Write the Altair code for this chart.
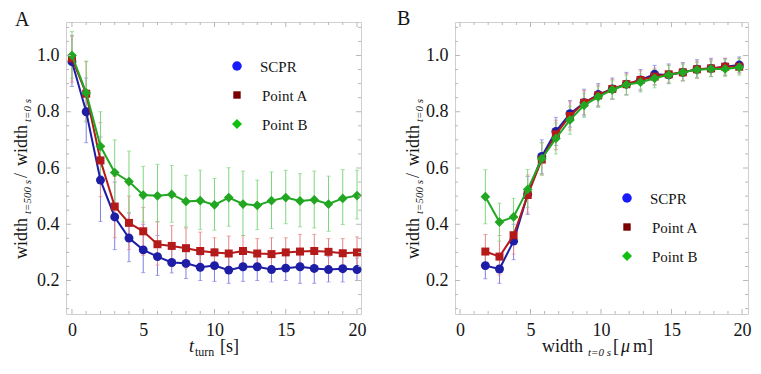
import altair as alt
import pandas as pd

FONT = "Liberation Serif, Times New Roman, serif"

# ---------------- Panel A data ----------------
t_turn = [0, 1, 2, 3, 4, 5, 6, 7, 8, 9, 10, 11, 12, 13, 14, 15, 16, 17, 18, 19, 20]

scpr_A = [0.978, 0.800, 0.557, 0.426, 0.351, 0.309, 0.285, 0.264, 0.261, 0.247, 0.253,
          0.237, 0.249, 0.249, 0.239, 0.244, 0.249, 0.243, 0.239, 0.242, 0.239]
scpr_A_hi = [1.070, 0.920, 0.710, 0.550, 0.440, 0.400, 0.360, 0.310, 0.310, 0.290, 0.313,
             0.290, 0.300, 0.300, 0.285, 0.290, 0.300, 0.295, 0.285, 0.290, 0.280]
scpr_A_lo = [0.890, 0.690, 0.410, 0.310, 0.267, 0.228, 0.218, 0.227, 0.207, 0.200, 0.197,
             0.190, 0.197, 0.200, 0.195, 0.200, 0.190, 0.190, 0.195, 0.195, 0.200]

pointA_A = [0.990, 0.864, 0.627, 0.463, 0.405, 0.375, 0.329, 0.323, 0.315, 0.305, 0.300,
            0.296, 0.305, 0.296, 0.294, 0.300, 0.303, 0.305, 0.302, 0.297, 0.300]
pointA_A_hi = [1.070, 0.978, 0.761, 0.570, 0.500, 0.460, 0.410, 0.395, 0.387, 0.372, 0.352,
               0.358, 0.360, 0.349, 0.352, 0.352, 0.364, 0.364, 0.349, 0.349, 0.355]
pointA_A_lo = [0.905, 0.764, 0.498, 0.352, 0.310, 0.290, 0.255, 0.250, 0.245, 0.240, 0.245,
               0.235, 0.250, 0.245, 0.240, 0.245, 0.245, 0.245, 0.250, 0.245, 0.245]

pointB_A = [1.000, 0.867, 0.677, 0.584, 0.552, 0.504, 0.501, 0.506, 0.481, 0.484, 0.469,
            0.495, 0.472, 0.467, 0.484, 0.495, 0.483, 0.487, 0.472, 0.492, 0.502]
pointB_A_hi = [1.085, 0.980, 0.800, 0.700, 0.660, 0.606, 0.613, 0.609, 0.574, 0.592, 0.563,
               0.601, 0.589, 0.557, 0.586, 0.592, 0.580, 0.589, 0.571, 0.594, 0.592]
pointB_A_lo = [0.919, 0.767, 0.568, 0.460, 0.440, 0.408, 0.408, 0.407, 0.391, 0.381, 0.379,
               0.393, 0.360, 0.381, 0.385, 0.402, 0.391, 0.387, 0.375, 0.399, 0.419]

# ---------------- Panel B data ----------------
width0 = [1.8, 2.8, 3.8, 4.8, 5.8, 6.8, 7.8, 8.8, 9.8, 10.8, 11.8, 12.8, 13.8, 14.8,
          15.8, 16.8, 17.8, 18.8, 19.8]

scpr_B = [0.253, 0.241, 0.340, 0.506, 0.641, 0.730, 0.793, 0.832, 0.861, 0.881, 0.898,
          0.913, 0.933, 0.931, 0.940, 0.951, 0.954, 0.960, 0.966]
scpr_B_hi = [0.300, 0.290, 0.400, 0.570, 0.700, 0.780, 0.840, 0.880, 0.900, 0.920, 0.940,
             0.950, 0.965, 0.970, 0.975, 0.985, 0.990, 0.990, 0.995]
scpr_B_lo = [0.206, 0.190, 0.274, 0.435, 0.580, 0.680, 0.745, 0.785, 0.820, 0.845, 0.860,
             0.875, 0.895, 0.900, 0.910, 0.920, 0.925, 0.930, 0.940]

pointA_B = [0.303, 0.285, 0.361, 0.504, 0.630, 0.720, 0.785, 0.832, 0.858, 0.881, 0.898,
            0.913, 0.925, 0.933, 0.940, 0.951, 0.954, 0.960, 0.960]
pointA_B_hi = [0.364, 0.360, 0.420, 0.575, 0.690, 0.770, 0.835, 0.875, 0.895, 0.915, 0.935,
               0.945, 0.955, 0.965, 0.970, 0.980, 0.985, 0.990, 0.990]
pointA_B_lo = [0.240, 0.220, 0.294, 0.440, 0.575, 0.665, 0.735, 0.790, 0.820, 0.845, 0.860,
               0.880, 0.895, 0.905, 0.910, 0.920, 0.925, 0.930, 0.935]

pointB_B = [0.498, 0.408, 0.426, 0.524, 0.633, 0.705, 0.771, 0.823, 0.853, 0.878, 0.896,
            0.905, 0.919, 0.931, 0.940, 0.949, 0.952, 0.952, 0.958]
pointB_B_hi = [0.594, 0.475, 0.492, 0.595, 0.690, 0.760, 0.820, 0.865, 0.890, 0.910, 0.930,
               0.935, 0.950, 0.965, 0.970, 0.975, 0.980, 0.985, 0.990]
pointB_B_lo = [0.402, 0.340, 0.360, 0.460, 0.575, 0.650, 0.720, 0.780, 0.815, 0.845, 0.860,
               0.870, 0.885, 0.900, 0.910, 0.920, 0.925, 0.925, 0.930]

# ---------------- labels / ticks ----------------
series_names = ["SCPR", "Point A", "Point B"]
x_tick_values = [0, 5, 10, 15, 20]
x_minor_values = [1, 2, 3, 4, 6, 7, 8, 9, 11, 12, 13, 14, 16, 17, 18, 19]
y_tick_values = [0.2, 0.4, 0.6, 0.8, 1.0]
y_minor_values = [0.1, 0.15, 0.25, 0.3, 0.35, 0.45, 0.5, 0.55, 0.65, 0.7, 0.75,
                  0.85, 0.9, 0.95, 1.05, 1.1]

# styles
line_colors = ["#1d1da6", "#b41a1a", "#22a722"]
err_colors = ["#7f7fe6", "#e48484", "#7fd67f"]
legend_colors = ["#1a1aff", "#7a0000", "#10c010"]
shapes = ["circle", "square", "diamond"]
sizes = [80, 64, 95]
legend_sizes = [90, 55, 100]
TICK_COLOR = "#b8b8b8"
TEXT_COLOR = "#151515"

W_A, W_B, H = 295, 293, 292
Y_DOM = [0.081, 1.119]
one = pd.DataFrame({"k": [0]})


def txt(s, x, y, size, style="normal", angle=0):
    return alt.Chart(one).mark_text(
        text=s, font=FONT, fontSize=size, fontStyle=style, angle=angle,
        align="left", baseline="alphabetic", color=TEXT_COLOR
    ).encode(x=alt.value(x), y=alt.value(y))


def panel(xs, series, xdom, width, legend_pos, label, label_pos, ytitle_x, xtitle_parts):
    xscale = alt.Scale(domain=xdom, nice=False, zero=False)
    yscale = alt.Scale(domain=Y_DOM, nice=False, zero=False)
    xaxis = alt.Axis(values=x_tick_values, domain=False, ticks=False, grid=False, title=None,
                     labelFont=FONT, labelFontSize=18, labelColor=TEXT_COLOR, labelPadding=7,
                     labelFlush=False)
    yaxis = alt.Axis(values=y_tick_values, format=".1f", domain=False, ticks=False, grid=False,
                     title=None, labelFont=FONT, labelFontSize=18, labelColor=TEXT_COLOR,
                     labelPadding=7, labelFlush=False)

    def X(f):
        return alt.X(f, type="quantitative", scale=xscale, axis=xaxis)

    def Y(f):
        return alt.Y(f, type="quantitative", scale=yscale, axis=yaxis)

    layers = []
    dfs = []
    for (vals, hi, lo) in series:
        dfs.append(pd.DataFrame({"x": xs, "y": vals, "hi": hi, "lo": lo}))

    # error bars
    for i, df in enumerate(dfs):
        c = err_colors[i]
        base = alt.Chart(df)
        layers.append(base.mark_rule(color=c, strokeWidth=1).encode(x=X("x"), y=Y("lo"), y2="hi"))
        layers.append(base.mark_tick(color=c, orient="horizontal", size=4, thickness=1)
                      .encode(x=X("x"), y=Y("hi")))
        layers.append(base.mark_tick(color=c, orient="horizontal", size=4, thickness=1)
                      .encode(x=X("x"), y=Y("lo")))
    # lines and markers
    for i, df in enumerate(dfs):
        base = alt.Chart(df)
        layers.append(base.mark_line(color=line_colors[i], strokeWidth=2)
                      .encode(x=X("x"), y=Y("y")))
        layers.append(base.mark_point(shape=shapes[i], filled=True, opacity=1,
                                      color=line_colors[i], size=sizes[i])
                      .encode(x=X("x"), y=Y("y")))

    # frame ticks (inside the frame)
    xmaj = pd.DataFrame({"v": x_tick_values})
    xmin = pd.DataFrame({"v": x_minor_values})
    ymaj = pd.DataFrame({"v": y_tick_values})
    ymin = pd.DataFrame({"v": y_minor_values})
    for d, ln in ((xmaj, 5), (xmin, 3)):
        layers.append(alt.Chart(d).mark_rule(color=TICK_COLOR, strokeWidth=1)
                      .encode(x=X("v"), y=alt.value(H), y2=alt.value(H - ln)))
        layers.append(alt.Chart(d).mark_rule(color=TICK_COLOR, strokeWidth=1)
                      .encode(x=X("v"), y=alt.value(0), y2=alt.value(ln)))
    for d, ln in ((ymaj, 5), (ymin, 3)):
        layers.append(alt.Chart(d).mark_rule(color=TICK_COLOR, strokeWidth=1)
                      .encode(y=Y("v"), x=alt.value(0), x2=alt.value(ln)))
        layers.append(alt.Chart(d).mark_rule(color=TICK_COLOR, strokeWidth=1)
                      .encode(y=Y("v"), x=alt.value(width), x2=alt.value(width - ln)))

    # legend
    lx, ly, dy, tx = legend_pos
    for i, name in enumerate(series_names):
        yy = ly + i * dy
        layers.append(alt.Chart(one).mark_point(shape=shapes[i], filled=True, opacity=1,
                                                color=legend_colors[i], size=legend_sizes[i])
                      .encode(x=alt.value(lx), y=alt.value(yy)))
        layers.append(alt.Chart(one).mark_text(text=name, font=FONT, fontSize=15,
                                               align="left", baseline="middle",
                                               color=TEXT_COLOR)
                      .encode(x=alt.value(tx + (0 if i == 0 else 2)), y=alt.value(yy + 1)))

    # panel label
    layers.append(txt(label, label_pos[0], label_pos[1], 20))

    # y title: width_{t=500 s} / width_{t=0 s}
    mx, sx = ytitle_x, ytitle_x + 4
    layers.append(txt("width", mx, 237, 18, angle=270))
    layers.append(txt("t=500 s", sx, 192, 11, "italic", angle=270))
    layers.append(txt("/", mx, 156, 18, angle=270))
    layers.append(txt("width", mx, 144, 18, angle=270))
    layers.append(txt("t=0 s", sx, 100, 11, "italic", angle=270))

    # x title
    for (s, x, y, size, style) in xtitle_parts:
        layers.append(txt(s, x, y, size, style))

    return alt.layer(*layers).properties(width=width, height=H)


series_A = [(scpr_A, scpr_A_hi, scpr_A_lo), (pointA_A, pointA_A_hi, pointA_A_lo),
            (pointB_A, pointB_A_hi, pointB_A_lo)]
series_B = [(scpr_B, scpr_B_hi, scpr_B_lo), (pointA_B, pointA_B_hi, pointA_B_lo),
            (pointB_B, pointB_B_hi, pointB_B_lo)]

XT = 330
xtitle_A = [("t", 123, XT, 18, "italic"), ("turn", 129, XT + 4, 12, "normal"),
            ("[s]", 154, XT, 18, "normal")]
xtitle_B = [("width", 87, XT, 18, "normal"), ("t=0 s", 133, XT + 4, 11, "italic"),
            ("[", 158, XT, 18, "normal"), ("\u03bc", 166, XT, 18, "italic"),
            ("m]", 178, XT, 18, "normal")]

chart_A = panel(t_turn, series_A, [-0.418, 20.28], W_A, (171, 44, 29, 194),
                "A", (-51, 4), -39, xtitle_A)
chart_B = panel(width0, series_B, [-0.352, 20.42], W_B, (172, 176, 29, 195),
                "B", (-58, 3), -36, xtitle_B)

chart = alt.hconcat(chart_A, chart_B, spacing=94, bounds="flush").properties(
    padding={"left": 4, "top": 0, "right": 0, "bottom": 0}
).configure_view(stroke="#cfcfcf", strokeWidth=1).configure_axis(
    labelFont=FONT, labelFontSize=18
).configure_text(font=FONT)

chart.save("out.html", embed_options={"renderer": "svg", "actions": False})
